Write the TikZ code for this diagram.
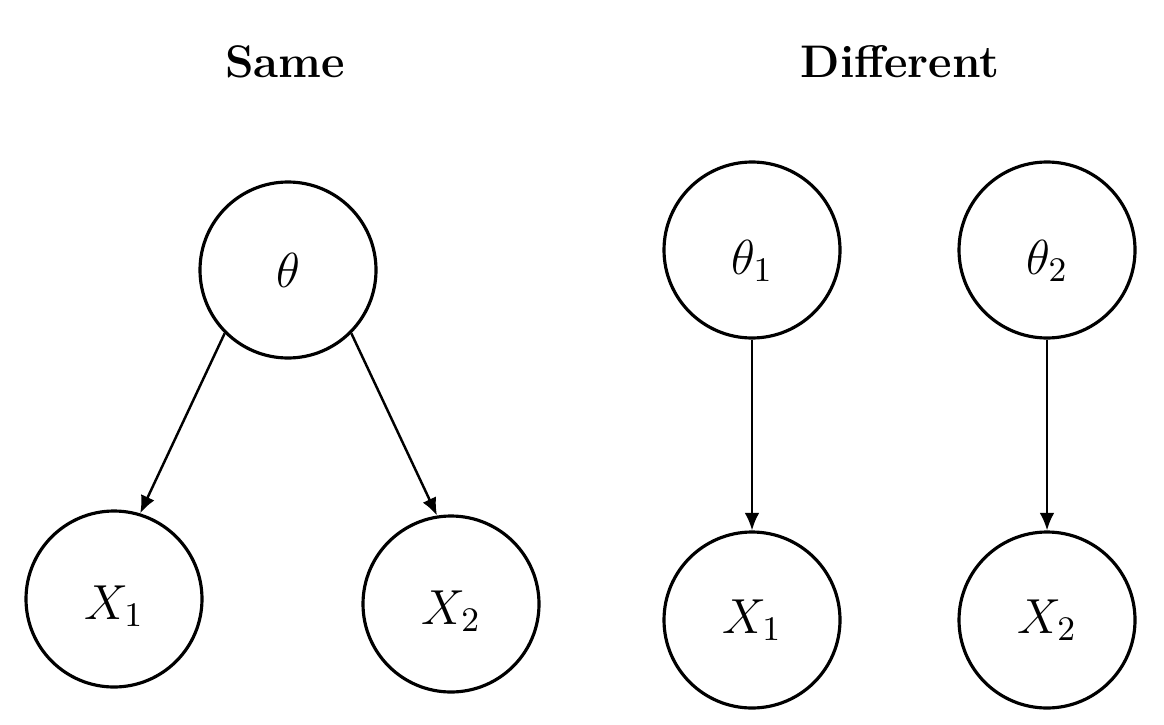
\RequirePackage{fix-cm}
\documentclass[tikz,border=0pt]{standalone}
\usepackage{amsmath}
\usepackage{fontspec}
\usetikzlibrary{arrows.meta}

\begin{document}
\begin{tikzpicture}
    \useasboundingbox (0,0) rectangle (11.64,7.24);

    % titles
    \node[font=\fontsize{13}{15}\selectfont\bfseries,anchor=base] (S) at (2.85,6.46) {Same};
    \node[font=\fontsize{13}{15}\selectfont\bfseries,anchor=base] (D) at (9.00,6.46) {Different};

    \begin{scope}[every node/.style={circle,line width=0.9pt,draw,minimum size=1.76cm,inner sep=0pt,
        font=\fontsize{14}{17}\selectfont}]
      \node[shape=circle,draw=black] (T) at (2.88,4.54) {$\theta$};
      \node[shape=circle,draw=black,text height=0.48cm] (A) at (1.14,1.25) {$X_1$};
      \node[shape=circle,draw=black,text height=0.48cm] (B) at (4.51,1.20) {$X_2$};

      \node[shape=circle,draw=black,text height=0.56cm] (T1) at (7.52,4.74) {$\theta_1$};
      \node[shape=circle,draw=black,text height=0.56cm] (T2) at (10.47,4.74) {$\theta_2$};
      \node[shape=circle,draw=black] (C) at (7.52,1.04) {$X_1$};
      \node[shape=circle,draw=black] (E) at (10.47,1.04) {$X_2$};
    \end{scope}

    \begin{scope}[>={Latex[black,length=5pt,width=4.2pt]},
        every edge/.style={draw=black,line width=0.7pt}]
      \path [->] (T.south west) edge (A.73);
      \path [->] (T.south east) edge (B.99);
      \path [->] (T1) edge (C);
      \path [->] (T2) edge (E);
    \end{scope}
\end{tikzpicture}
\end{document}
